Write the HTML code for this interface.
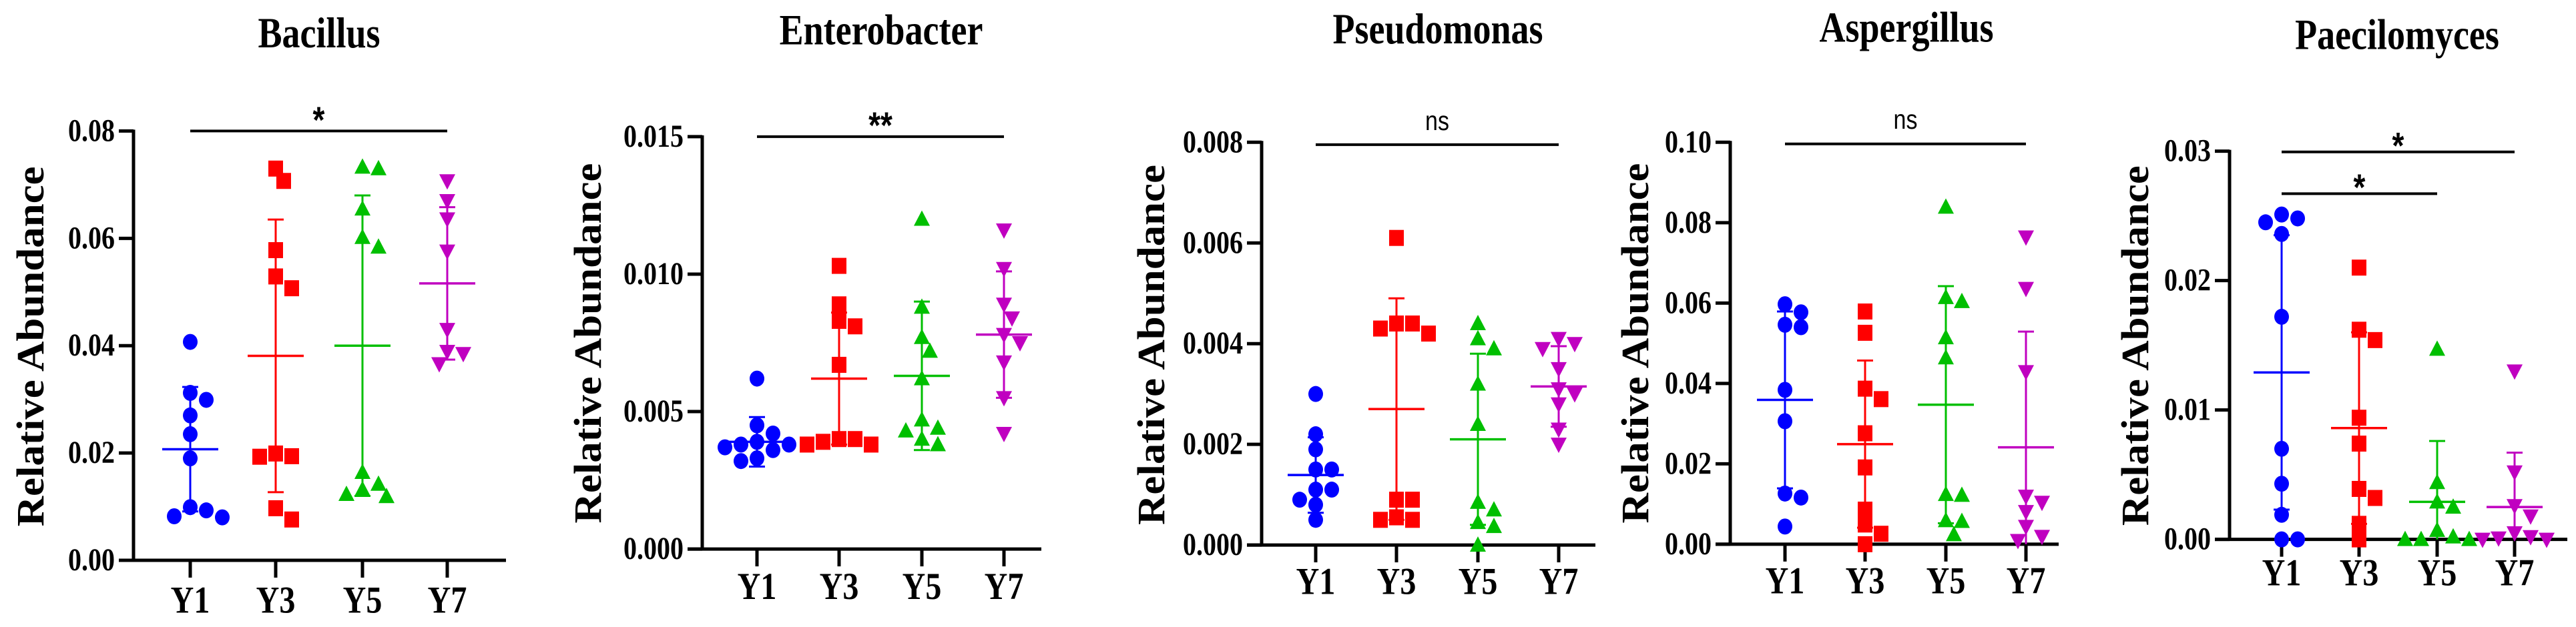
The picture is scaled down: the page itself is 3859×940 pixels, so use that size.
<!DOCTYPE html>
<html><head><meta charset="utf-8">
<style>
html,body{margin:0;padding:0;background:#fff;}
svg{display:block;font-family:"Liberation Serif",serif;}
</style></head>
<body>
<svg id="chart" width="3859" height="940" viewBox="0 0 3859 940" xmlns="http://www.w3.org/2000/svg"></svg>
<script>
const categories = ["Y1","Y3","Y5","Y7"];
const colors = ["#0000ff","#ff0000","#00bf00","#c000c0"];

const bacillusValues = [
  [0.0407,0.0312,0.0299,0.027,0.0235,0.019,0.0099,0.0093,0.0082,0.008],
  [0.073,0.0707,0.0578,0.0529,0.0507,0.0199,0.0194,0.0193,0.0097,0.0076],
  [0.0733,0.073,0.0655,0.0602,0.0584,0.0164,0.0142,0.0132,0.0123,0.0119],
  [0.0707,0.067,0.0636,0.0576,0.043,0.0389,0.0385,0.0366]
];
const bacillusMeans = [0.0207,0.0381,0.040,0.0516];
const bacillusSD = [0.0116,0.0254,0.028,0.0142];
const bacillusTicks = [0,0.02,0.04,0.06,0.08];
const bacillusTickLabels = ["0.00","0.02","0.04","0.06","0.08"];

const enteroValues = [
  [0.0062,0.0045,0.0042,0.0039,0.0038,0.0038,0.0037,0.0036,0.0033,0.0032],
  [0.0103,0.0089,0.0083,0.0081,0.0067,0.0040,0.0040,0.0039,0.0038,0.0038],
  [0.0120,0.0088,0.0077,0.0072,0.0062,0.0047,0.0044,0.0043,0.0040,0.0038],
  [0.0116,0.0102,0.0089,0.0084,0.0078,0.0075,0.0068,0.0055,0.0042]
];
const enteroMeans = [0.0039,0.0062,0.0063,0.0078];
const enteroSD = [0.0009,0.0024,0.0027,0.0023];
const enteroTicks = [0,0.005,0.010,0.015];
const enteroTickLabels = ["0.000","0.005","0.010","0.015"];

const pseudoValues = [
  [0.0030,0.0022,0.0019,0.0015,0.0015,0.0011,0.0011,0.0009,0.0008,0.0005],
  [0.0061,0.0044,0.0044,0.0043,0.0042,0.0009,0.0009,0.00055,0.0005,0.0005],
  [0.0044,0.0041,0.0039,0.0032,0.0024,0.00085,0.0007,0.00045,0.00037,0.0],
  [0.0041,0.0040,0.0039,0.0035,0.0031,0.0030,0.0028,0.0023,0.0020]
];
const pseudoMeans = [0.00139,0.0027,0.0021,0.00315];
const pseudoSD = [0.00075,0.0022,0.0017,0.0008];
const pseudoTicks = [0,0.002,0.004,0.006,0.008];
const pseudoTickLabels = ["0.000","0.002","0.004","0.006","0.008"];

const asperValues = [
  [0.0597,0.0577,0.0546,0.054,0.0384,0.0306,0.0126,0.0116,0.0044],
  [0.0579,0.0526,0.0387,0.0361,0.0276,0.0191,0.0086,0.0049,0.0026,0.0],
  [0.0839,0.0614,0.0604,0.0514,0.0464,0.0124,0.0122,0.0059,0.0057,0.0024],
  [0.0764,0.0636,0.0429,0.0119,0.0104,0.0081,0.0044,0.0019,0.0009]
];
const asperMeans = [0.0359,0.0249,0.0347,0.0241];
const asperSD = [0.022,0.0208,0.0295,0.0288];
const asperTicks = [0,0.02,0.04,0.06,0.08,0.10];
const asperTickLabels = ["0.00","0.02","0.04","0.06","0.08","0.10"];

const paeciValues = [
  [0.0251,0.0248,0.0245,0.0236,0.0172,0.007,0.0043,0.0019,0.0,0.0],
  [0.021,0.0162,0.0154,0.0094,0.0074,0.0039,0.0032,0.0012,0.0],
  [0.0147,0.0044,0.0029,0.0025,0.0007,0.0002,0.0,0.0,0.0],
  [0.013,0.0052,0.0026,0.0018,0.0005,0.0002,0.0001,0.0,0.0]
];
const paeciMeans = [0.0129,0.0086,0.0029,0.0025];
const paeciSD = [0.0106,0.0074,0.0047,0.0042];
const paeciTicks = [0,0.01,0.02,0.03];
const paeciTickLabels = ["0.00","0.01","0.02","0.03"];

const SY = 940/780;
const panels = [
  {name:"bacillus",title:"Bacillus",values:bacillusValues,means:bacillusMeans,sd:bacillusSD,ticks:bacillusTicks,labels:bacillusTickLabels,
   ax:200,yTop:163,yBot:697,xs:[285,413,543,670],xEnd:758,titleX:478,titleY:59,xlabY:762,ylabX:65,ylabY:431,
   sig:[{a:0,b:3,y:163,t:"*",ty:150,fs:46}]},
  {name:"enterobacter",title:"Enterobacter",values:enteroValues,means:enteroMeans,sd:enteroSD,ticks:enteroTicks,labels:enteroTickLabels,
   ax:1052,yTop:170,yBot:683,xs:[1134,1257,1381,1504],xEnd:1560,titleX:1320,titleY:55,xlabY:745,ylabX:900,ylabY:427,
   sig:[{a:0,b:3,y:170,t:"**",ty:157,fs:46}]},
  {name:"pseudomonas",title:"Pseudomonas",values:pseudoValues,means:pseudoMeans,sd:pseudoSD,ticks:pseudoTicks,labels:pseudoTickLabels,
   ax:1890,yTop:177,yBot:678,xs:[1971,2092,2214,2335],xEnd:2390,titleX:2154,titleY:54,xlabY:739,ylabX:1744,ylabY:429,
   sig:[{a:0,b:3,y:180,t:"ns",ty:162,fs:34,sans:true}]},
  {name:"aspergillus",title:"Aspergillus",values:asperValues,means:asperMeans,sd:asperSD,ticks:asperTicks,labels:asperTickLabels,
   ax:2592,yTop:177,yBot:677,xs:[2674,2794,2915,3035],xEnd:3084,titleX:2856,titleY:52,xlabY:738,ylabX:2469,ylabY:427,
   sig:[{a:0,b:3,y:179,t:"ns",ty:160,fs:34,sans:true}]},
  {name:"paecilomyces",title:"Paecilomyces",values:paeciValues,means:paeciMeans,sd:paeciSD,ticks:paeciTicks,labels:paeciTickLabels,
   ax:3340,yTop:188,yBot:671,xs:[3418,3534,3651,3767],xEnd:3846,titleX:3591,titleY:61,xlabY:728,ylabX:3218,ylabY:430,
   sig:[{a:0,b:3,y:189,t:"*",ty:182,fs:46},{a:0,b:2,y:241,t:"*",ty:234,fs:46}]}
];

const NS="http://www.w3.org/2000/svg";
const svg=document.getElementById("chart");
function mk(tag,attrs,parent){const e=document.createElementNS(NS,tag);for(const k in attrs)e.setAttribute(k,attrs[k]);(parent||svg).appendChild(e);return e;}
function txt(x,y,attrs,parent){attrs.x=0;attrs.y=0;attrs.transform=`translate(${x},${y}) scale(1,1.2)`+(attrs.rot||"");delete attrs.rot;return mk("text",attrs,parent);}

panels.forEach(p=>{
  ["yTop","yBot","titleY","xlabY","ylabY"].forEach(k=>p[k]*=SY);
  p.sig.forEach(s=>{s.y*=SY;s.ty*=SY;});
  const g=mk("g",{});
  
  
  const maxV=p.ticks[p.ticks.length-1];
  const yScale=v=>p.yBot-(v/maxV)*(p.yBot-p.yTop);

  const t=txt(p.titleX,p.titleY,{"text-anchor":"middle","font-size":54,"font-weight":"bold"},g);
  t.textContent=p.title;
  
  

  const yl=mk("text",{x:0,y:0,transform:`translate(${p.ylabX},${p.ylabY}) rotate(-90)`,"text-anchor":"middle","font-size":58,"font-weight":"bold",textLength:540,lengthAdjust:"spacingAndGlyphs"},g);
  yl.textContent="Relative Abundance";
  
  

  const ya=mk("line",{x1:p.ax,y1:p.yTop-2,x2:p.ax,y2:p.yBot,stroke:"#000","stroke-width":5},g);
  
  
  const xa=mk("line",{x1:p.ax-22,y1:p.yBot,x2:p.xEnd,y2:p.yBot,stroke:"#000","stroke-width":5},g);
  
  

  p.ticks.forEach((v,i)=>{
    const y=yScale(v);
    const tk=mk("line",{x1:p.ax-22,y1:y,x2:p.ax,y2:y,stroke:"#000","stroke-width":5},g);
    
    
    const tl=txt(p.ax-28,y+15,{"text-anchor":"end","font-size":40,"font-weight":"bold"},g);
    tl.textContent=p.labels[i];
    
    
  });

  categories.forEach((c,ci)=>{
    const x=p.xs[ci];
    const tk=mk("line",{x1:x,y1:p.yBot,x2:x,y2:p.yBot+26,stroke:"#000","stroke-width":5},g);
    
    
    const xl=txt(x,p.xlabY,{"text-anchor":"middle","font-size":48,"font-weight":"bold"},g);
    xl.textContent=c;
    
    

    const col=colors[ci];
    const placed=[];
    const sorted=p.values[ci].slice().sort((a,b)=>b-a);
    sorted.forEach(v=>{
      const py=yScale(v);
      let off=0;
      for(let k=0;k<30;k++){
        const cand=k===0?0:(k%2?1:-1)*Math.ceil(k/2)*12;
        if(placed.every(q=>Math.hypot(q.x-cand,q.y-py)>=22)){off=cand;break;}
      }
      placed.push({x:off,y:py});
      let m;
      const cx=x+off;
      if(ci===0) m=mk("ellipse",{cx:cx,cy:py,rx:11,ry:12,fill:col},g);
      else if(ci===1) m=mk("rect",{x:cx-11,y:py-12,width:22,height:24,fill:col},g);
      else if(ci===2) m=mk("polygon",{points:`${cx},${py-13} ${cx-12},${py+10} ${cx+12},${py+10}`,fill:col},g);
      else m=mk("polygon",{points:`${cx},${py+13} ${cx-12},${py-10} ${cx+12},${py-10}`,fill:col},g);
      
      
    });

    const mean=p.means[ci], sd=p.sd[ci];
    const yt=yScale(mean+sd), yb=yScale(Math.max(0,mean-sd)), ym=yScale(mean);
    const eb=mk("line",{x1:x,y1:yt,x2:x,y2:yb,stroke:col,"stroke-width":3},g);
    
    
    const cap1=mk("line",{x1:x-12,y1:yt,x2:x+12,y2:yt,stroke:col,"stroke-width":3},g);
    
    
    if(mean-sd>0){
      const cap2=mk("line",{x1:x-12,y1:yb,x2:x+12,y2:yb,stroke:col,"stroke-width":3},g);
      
      
    }
    const ml=mk("line",{x1:x-42,y1:ym,x2:x+42,y2:ym,stroke:col,"stroke-width":3.5},g);
    
    
  });

  p.sig.forEach(s=>{
    const x1=p.xs[s.a], x2=p.xs[s.b];
    const l=mk("line",{x1:x1,y1:s.y,x2:x2,y2:s.y,stroke:"#000","stroke-width":4},g);
    
    
    const tx=txt((x1+x2)/2,s.t==="ns"?s.ty:s.ty+18,{"text-anchor":"middle","font-size":s.fs,"font-weight":s.sans?"normal":"bold","font-family":"Liberation Sans, sans-serif"},g);
    tx.textContent=s.t;
    
    
  });
});
</script>
</body></html>
